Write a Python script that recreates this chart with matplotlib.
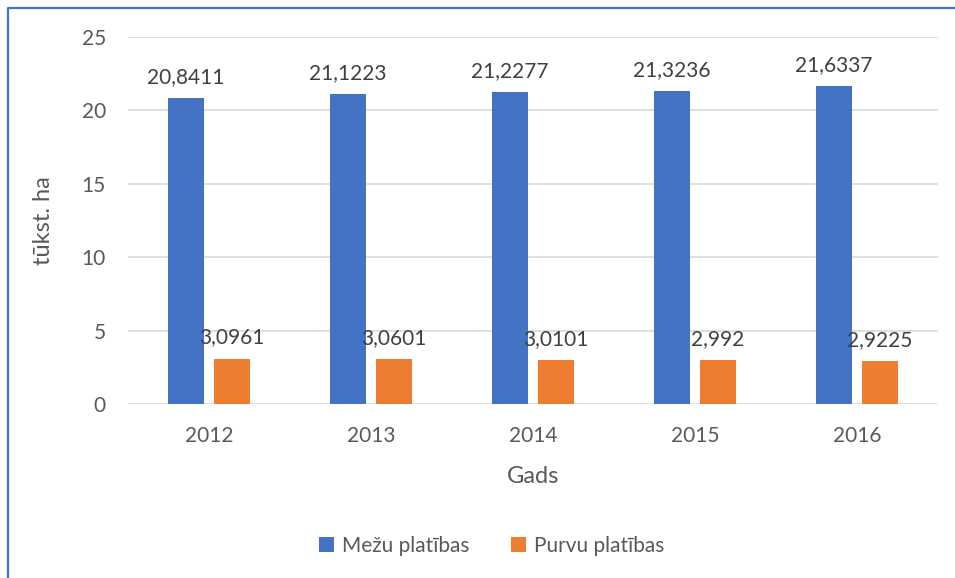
import matplotlib
matplotlib.use("Agg")
import matplotlib.pyplot as plt
from matplotlib.lines import Line2D
from matplotlib.patches import Patch
import numpy as np

years = ["2012", "2013", "2014", "2015", "2016"]
mezu = [20.8411, 21.1223, 21.2277, 21.3236, 21.6337]
purvu = [3.0961, 3.0601, 3.0101, 2.992, 2.9225]
mezu_lbl = ["20,8411", "21,1223", "21,2277", "21,3236", "21,6337"]
purvu_lbl = ["3,0961", "3,0601", "3,0101", "2,992", "2,9225"]
series_names = ["Mežu platības", "Purvu platības"]

plt.rcParams['font.family'] = ['Lato', 'DejaVu Sans']
blue = "#4472C4"
orange = "#ED7D31"
tick_col = "#595959"
lbl_col = "#404040"
fs = 15

fig = plt.figure(figsize=(9.55, 5.78), dpi=100)
ax = fig.add_axes([128/955, 1-404/578, (938-128)/955, (404-37)/578])

x = np.arange(len(years))
w = 36/162
off = 23/162
b1 = ax.bar(x - off, mezu, w, color=blue, zorder=3)
b2 = ax.bar(x + off, purvu, w, color=orange, zorder=3)

for bars, labels in ((b1, mezu_lbl), (b2, purvu_lbl)):
    for rect, t in zip(bars, labels):
        ax.annotate(t, (rect.get_x()+rect.get_width()/2, rect.get_height()),
                    xytext=(0, 8), textcoords="offset points", ha="center", va="bottom",
                    fontsize=fs, color=lbl_col, zorder=5)

ax.set_xlim(-0.5, len(years)-0.5)
ax.set_ylim(0, 25)
ax.set_yticks([0, 5, 10, 15, 20, 25])
ax.set_xticks(x)
ax.set_xticklabels(years)
ax.tick_params(axis='both', length=0, labelsize=fs, labelcolor=tick_col)
ax.tick_params(axis='y', pad=16)
ax.tick_params(axis='x', pad=16)
ax.grid(axis='y', color="#D9D9D9", linewidth=1.2, zorder=0)
for s in ax.spines.values():
    s.set_visible(False)
ax.set_ylabel("tūkst. ha", fontsize=17, color=tick_col, labelpad=20)
ax.set_xlabel("Gads", fontsize=17, color=tick_col, labelpad=14)

handles = [Patch(facecolor=blue), Patch(facecolor=orange)]
fig.legend(handles, series_names, loc="center", bbox_to_anchor=(492/955, 1-546/578),
           ncol=2, frameon=False, fontsize=fs, labelcolor=tick_col,
           handlelength=0.7, handleheight=0.7, handletextpad=0.4, columnspacing=2.0)

fig.add_artist(Line2D([8/955, 8/955, 1.0], [0, 1-8/578, 1-8/578], transform=fig.transFigure,
                      color=blue, linewidth=1.6))

fig.savefig("out.png", dpi=100, facecolor="white")
